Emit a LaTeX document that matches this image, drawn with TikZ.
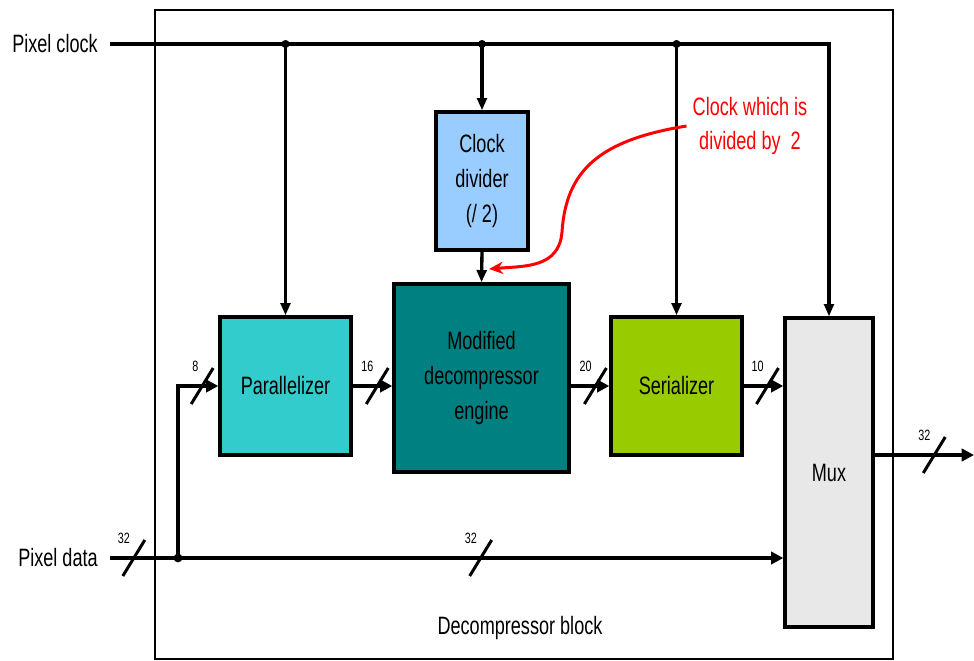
\documentclass[tikz,border=0pt]{standalone}
\usepackage{fontspec}
\setmainfont{Liberation Sans}[FakeStretch=0.72]
\usetikzlibrary{positioning, arrows.meta, calc}

\definecolor{divblue}{HTML}{99CCFF}
\definecolor{parcyan}{HTML}{33CCCC}
\definecolor{engteal}{HTML}{008080}
\definecolor{sergreen}{HTML}{99CC00}
\definecolor{muxgray}{HTML}{E8E8E8}

\tikzset{
  blk/.style={draw, line width=1.9pt, align=center, inner sep=0pt,
    font=\fontsize{14.3}{19.7}\selectfont},
  lbl/.style={font=\fontsize{14.3}{19.7}\selectfont},
  buslbl/.style={font=\fontsize{8.5}{10}\selectfont, inner sep=1pt},
  clkline/.style={line width=1.9pt},
  clkarrow/.style={clkline, -{Triangle[length=7pt,width=5.5pt]}},
  busline/.style={line width=2.4pt},
  busarrow/.style={busline, -{Triangle[length=7pt,width=7pt]}},
  pics/slash/.style={code={
    \draw[-, line width=1.7pt] (-11,18) -- (11,-18);
    \node[buslbl, anchor=south east] at (0,-10) {#1};
  }}
}

\begin{document}
\begin{tikzpicture}[x=0.02cm, y=-0.02cm]
  \useasboundingbox (0,0) rectangle (974,660);
  % decompressor block
  \draw[line width=1.5pt] (155,10) rectangle (893,659);
  \node[lbl] (blocklbl) at (520,628) {Decompressor block};
  % inputs
  \node[lbl, anchor=east, inner xsep=6.8pt] (clk) at (110,44) {Pixel clock};
  \node[lbl, anchor=east, inner xsep=6.8pt] (dat) at (110,558) {Pixel data};
  % blocks
  \node[blk, fill=divblue, minimum width=1.84cm, minimum height=2.76cm] (div) at (482,181) {Clock\\divider\\(/ 2)};
  \node[blk, fill=parcyan, minimum width=2.62cm, minimum height=2.76cm] (par) at (285.5,386) {Parallelizer};
  \node[blk, fill=engteal, minimum width=3.5cm, minimum height=3.76cm] (eng) at (481.5,378) {Modified\\decompressor\\engine};
  \node[blk, fill=sergreen, minimum width=2.62cm, minimum height=2.76cm] (ser) at (676.5,386) {Serializer};
  \node[blk, fill=muxgray, minimum width=1.76cm, minimum height=6.18cm] (mux) at (829,472.5) {Mux};
  % clock distribution
  \draw[clkarrow] (clk.east) -- (mux.north |- clk.east) -- (mux.north);
  \foreach \b in {par, div, ser} {
    \fill (\b.north |- clk.east) circle (2.3pt);
    \draw[clkarrow] (\b.north |- clk.east) -- (\b.north);
  }
  \draw[clkarrow] (div.south) -- (eng.north);
  % data path
  \coordinate (tap) at (178,558);
  \coordinate (out) at (974,455);
  \fill (tap) circle (2.5pt);
  \draw[busline] (dat.east) -- pic[pos=.35]{slash=32} (tap);
  \draw[busarrow] (tap) -- pic[pos=.5]{slash=32} (mux.west |- tap);
  \draw[busarrow] (tap) |- pic[pos=.8]{slash=8} (par.west);
  \draw[busarrow] (par.east) -- pic[pos=.62]{slash=16} (eng.west |- par.east);
  \draw[busarrow] (eng.east |- ser.west) -- pic[pos=.64]{slash=20} (ser.west);
  \draw[busarrow] (ser.east) -- pic[pos=.6]{slash=10} (mux.west |- ser.east);
  \draw[busarrow] (mux.east |- out) -- pic[pos=.6]{slash=32} (out);
  % note
  \node[lbl, text=red, align=center] (note) at (750,126) {Clock which is\\divided by~~2};
  \coordinate (divtip) at (489,269);
  \draw[red, line width=1.7pt, -{Stealth[length=8pt,width=7pt]}]
    (note.west) .. controls (600,140) and (566,170) .. (562,232)
    .. controls (559,268) and (525,266) .. (divtip);
\end{tikzpicture}
\end{document}
